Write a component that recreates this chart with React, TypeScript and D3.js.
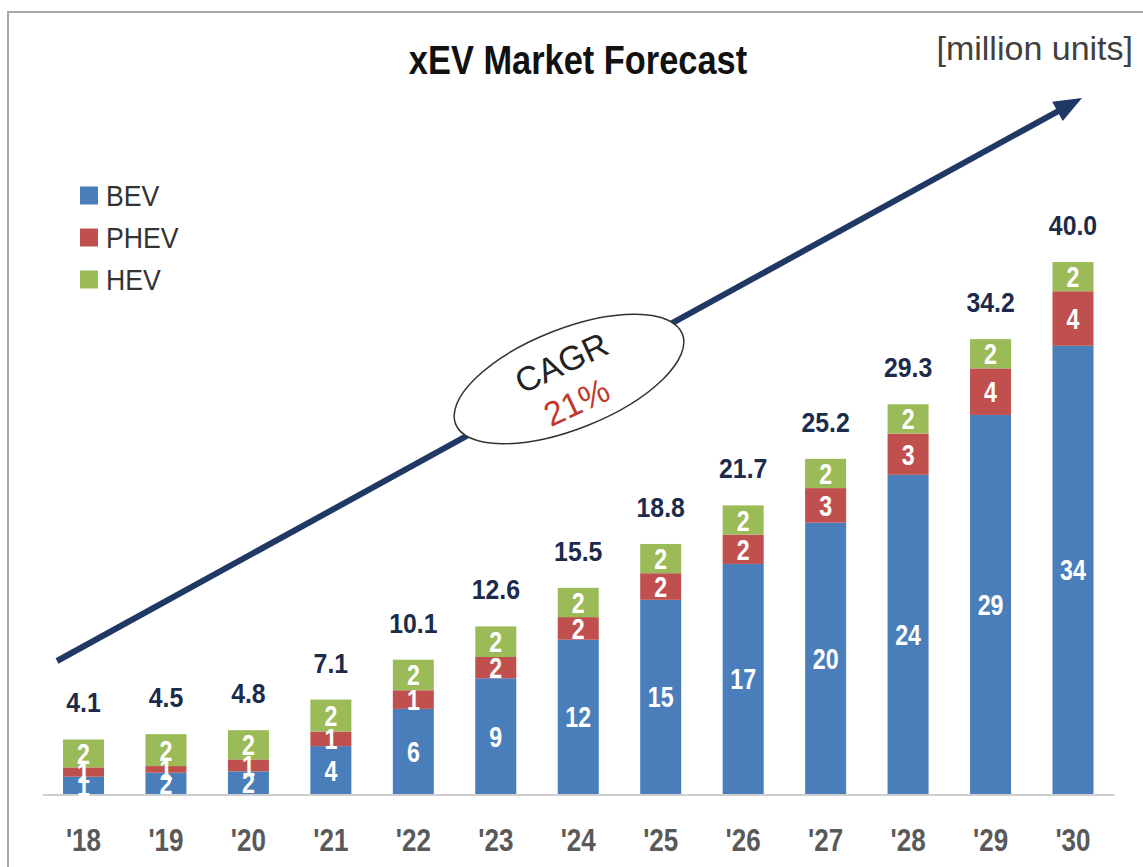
import React from "react";
import * as d3 from "d3";

const years = ["'18", "'19", "'20", "'21", "'22", "'23", "'24", "'25", "'26", "'27", "'28", "'29", "'30"];
const bev = [1.3, 1.6, 1.7, 3.6, 6.4, 8.7, 11.6, 14.6, 17.3, 20.4, 24.0, 28.5, 33.7];
const phev = [0.7, 0.5, 0.9, 1.1, 1.4, 1.6, 1.7, 2.0, 2.2, 2.6, 3.1, 3.5, 4.1];
const hev = [2.1, 2.4, 2.2, 2.4, 2.3, 2.3, 2.2, 2.2, 2.2, 2.2, 2.2, 2.2, 2.2];
const seriesNames = ["BEV", "PHEV", "HEV"];
const seriesColors = ["#4a7ebb", "#c0504d", "#9bbb59"];
const titleText = "xEV Market Forecast";
const unitText = "[million units]";
const cagrLabel = "CAGR";
const cagrValue = "21%";

const W = 1143;
const H = 867;
const FONT = "'Liberation Sans', Arial, Helvetica, sans-serif";

export default function App() {
  const rows = years.map((y, i) => ({ year: y, BEV: bev[i], PHEV: phev[i], HEV: hev[i] }));
  const stack = d3.stack<any>().keys(seriesNames);
  const layers = stack(rows);

  const x = d3.scalePoint<string>().domain(years).range([83.5, 1073]).padding(0);
  const y = d3.scaleLinear().domain([0, 40]).range([794, 262]);
  const barW = 41;

  const totals = rows.map((r) => r.BEV + r.PHEV + r.HEV);

  // arrow
  const a0 = [57, 661];
  const a1 = [1082, 98];
  const ang = Math.atan2(a1[1] - a0[1], a1[0] - a0[0]);
  const headL = 28;
  const headW = 11;
  const ux = Math.cos(ang), uy = Math.sin(ang);
  const baseX = a1[0] - ux * headL, baseY = a1[1] - uy * headL;
  const head = [
    [a1[0], a1[1]],
    [baseX - uy * headW, baseY + ux * headW],
    [baseX + uy * headW, baseY - ux * headW],
  ];
  const lineGen = d3.line();

  return (
    <svg width={W} height={H} style={{ position: "absolute", left: 0, top: 0, background: "#fff" }}>
      <rect x={0} y={0} width={W} height={H} fill="#fff" />
      <rect x={8} y={12} width={W + 20} height={H + 20} fill="none" stroke="#a8a8a8" strokeWidth={2} />

      {/* title */}
      <text
        transform="translate(578,74) scale(0.86,1)"
        textAnchor="middle"
        fontFamily={FONT}
        fontWeight="bold"
        fontSize={40}
        fill="#111"
      >
        {titleText}
      </text>
      <text x={1133} y={60} textAnchor="end" fontFamily={FONT} fontSize={34} fill="#404040">
        {unitText}
      </text>

      {/* legend */}
      {seriesNames.map((s, i) => {
        const cy = 195.5 + i * 42;
        return (
          <g key={s}>
            <rect x={80} y={cy - 9} width={18} height={18} fill={seriesColors[i]} />
            <text transform={`translate(106,${cy + 10}) scale(0.92,1)`} fontFamily={FONT} fontSize={29} fill="#333">
              {s}
            </text>
          </g>
        );
      })}

      {/* baseline */}
      <line x1={43} x2={1115} y1={y(0) + 1} y2={y(0) + 1} stroke="#cfcfcf" strokeWidth={2} />

      {/* arrow */}
      <path d={lineGen([a0 as [number, number], [baseX + ux * 4, baseY + uy * 4]]) || ""} stroke="#1f3864" strokeWidth={6} fill="none" />
      <path d={(lineGen(head as [number, number][]) || "") + "Z"} fill="#1f3864" />

      {/* ellipse */}
      <g transform="translate(569,379)">
        <ellipse cx={0} cy={0} rx={122} ry={50} transform="rotate(-21.7)" fill="#fff" stroke="#333" strokeWidth={1.5} />
        <g transform="rotate(-25)">
          <text x={0} y={-6} textAnchor="middle" fontFamily={FONT} fontSize={34} fill="#222">
            {cagrLabel}
          </text>
          <text x={-3} y={36} textAnchor="middle" fontFamily={FONT} fontSize={34} fill="#c0392b">
            {cagrValue}
          </text>
        </g>
      </g>

      {/* bars */}
      {layers.map((layer, li) => (
        <g key={layer.key}>
          {layer.map((d, i) => {
            const cx = x(years[i]) as number;
            const top = y(d[1]);
            const bot = y(d[0]);
            return (
              <rect key={i} x={cx - barW / 2} y={top} width={barW} height={bot - top} fill={seriesColors[li]} />
            );
          })}
        </g>
      ))}

      {/* segment labels */}
      {layers.map((layer) => (
        <g key={"l" + layer.key}>
          {layer.map((d, i) => {
            const cx = x(years[i]) as number;
            const mid = (y(d[1]) + y(d[0])) / 2;
            const v = d[1] - d[0];
            return (
              <text
                key={i}
                transform={`translate(${cx},${mid + 10.5}) scale(0.8,1)`}
                textAnchor="middle"
                fontFamily={FONT}
                fontWeight="bold"
                fontSize={29}
                fill="#fff"
              >
                {Math.round(v)}
              </text>
            );
          })}
        </g>
      ))}

      {/* totals */}
      {totals.map((t, i) => (
        <text
          key={"t" + i}
          transform={`translate(${x(years[i])},${y(t) - 27}) scale(0.92,1)`}
          textAnchor="middle"
          fontFamily={FONT}
          fontWeight="bold"
          fontSize={27}
          fill="#1c2b4b"
        >
          {t.toFixed(1)}
        </text>
      ))}

      {/* x tick labels */}
      {years.map((yr) => (
        <text
          key={"x" + yr}
          transform={`translate(${x(yr)},851) scale(0.84,1)`}
          textAnchor="middle"
          fontFamily={FONT}
          fontWeight="bold"
          fontSize={31}
          fill="#595959"
        >
          {yr}
        </text>
      ))}
    </svg>
  );
}
